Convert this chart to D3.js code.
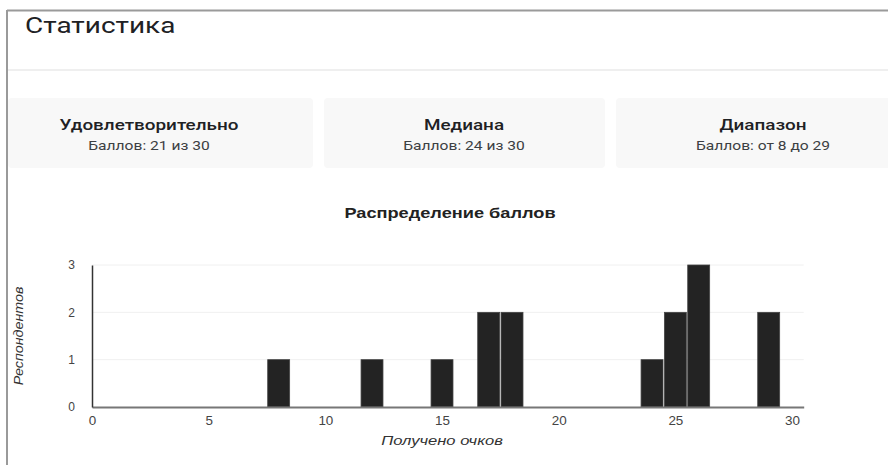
<!DOCTYPE html>
<html>
<head>
<meta charset="utf-8">
<script src="https://cdn.jsdelivr.net/npm/d3@7"></script>
<style>
  html, body { margin: 0; padding: 0; background: #fff; }
  svg { display: block; }
</style>
</head>
<body>
<svg id="chart" width="888" height="465"></svg>
<script>
// Score distribution: points scored and how many respondents got each
const scores = [8, 12, 15, 17, 18, 24, 25, 26, 29];
const respondents = [1, 1, 1, 2, 2, 1, 2, 3, 2];
const xTicks = [0, 5, 10, 15, 20, 25, 30];
const yTicks = [0, 1, 2, 3];

// Summary cards
const cardTitles = ["Удовлетворительно", "Медиана", "Диапазон"];
const cardTexts = ["Баллов: 21 из 30", "Баллов: 24 из 30", "Баллов: от 8 до 29"];

const svg = d3.select("#chart");

// Text drawn with a horizontal stretch around its anchor point
function wideText(sel, px, py, sx, str) {
  return sel.append("text")
    .attr("transform", `translate(${px},${py}) scale(${sx},1)`)
    .text(str);
}

// Panel frame
svg.append("line").attr("x1", 7).attr("x2", 888).attr("y1", 10.5).attr("y2", 10.5)
  .attr("stroke", "#9a9a9a").attr("stroke-width", 2);
svg.append("line").attr("x1", 7).attr("x2", 7).attr("y1", 10).attr("y2", 465)
  .attr("stroke", "#9a9a9a").attr("stroke-width", 2);

wideText(svg, 25, 33, 1.27, "Статистика")
  .attr("font-family", "Roboto, sans-serif").attr("font-size", 22).attr("font-weight", 400)
  .attr("fill", "#202124");

svg.append("rect").attr("x", 8).attr("y", 69).attr("width", 880).attr("height", 2).attr("fill", "#efefef");

// Cards
const cardX = [8, 324, 616];
const cardW = [305, 281, 294];
const cardCx = [149, 464, 763];
cardTitles.forEach((t, i) => {
  const g = svg.append("g");
  g.append("rect").attr("x", cardX[i]).attr("y", 98).attr("width", cardW[i]).attr("height", 70)
    .attr("rx", 4).attr("fill", "#f8f8f8");
  wideText(g, cardCx[i], 130, 1.26, t).attr("text-anchor", "middle")
    .attr("font-family", "Roboto, sans-serif").attr("font-size", 15).attr("font-weight", 500)
    .attr("fill", "#202124");
  wideText(g, cardCx[i], 150, 1.3, cardTexts[i]).attr("text-anchor", "middle")
    .attr("font-family", "Roboto, sans-serif").attr("font-size", 12)
    .attr("fill", "#3c4043");
});

// Histogram
const x = d3.scaleLinear().domain([0, 30.5]).range([92, 803.7]);
const y = d3.scaleLinear().domain([0, 3]).range([407, 265]);

wideText(svg, 450, 218, 1.3, "Распределение баллов").attr("text-anchor", "middle")
  .attr("font-family", "'Liberation Sans', Arial, sans-serif").attr("font-size", 14).attr("font-weight", "bold")
  .attr("fill", "#222");

// Gridlines
svg.append("g").selectAll("line").data(yTicks.filter(d => d > 0)).join("line")
  .attr("x1", x(0)).attr("x2", x(30.5)).attr("y1", d => y(d)).attr("y2", d => y(d))
  .attr("stroke", "#f0f0f0").attr("stroke-width", 1);

// Bars
svg.append("g").selectAll("rect").data(scores.map((s, i) => ({ s, n: respondents[i] }))).join("rect")
  .attr("x", d => x(d.s - 0.5) + 0.7)
  .attr("width", d => x(d.s + 0.5) - x(d.s - 0.5) - 1.4)
  .attr("y", d => y(d.n))
  .attr("height", d => y(0) - y(d.n))
  .attr("fill", "#232323").attr("stroke", "#444").attr("stroke-width", 0.8);

// Axes
const xAxis = d3.axisBottom(x).tickValues(xTicks).tickSize(0).tickPadding(9);
const gx = svg.append("g").attr("transform", `translate(0,${y(0)})`).call(xAxis);
gx.select(".domain").attr("stroke", "#777").attr("stroke-width", 2);
gx.selectAll("text").attr("font-family", "'Liberation Sans', Arial, sans-serif")
  .attr("font-size", 12).attr("fill", "#444")
  .attr("transform", "scale(1.12,1)");

const yAxis = d3.axisLeft(y).tickValues(yTicks).tickSize(0).tickPadding(17).tickFormat(d3.format("d"));
const gy = svg.append("g").attr("transform", `translate(${x(0)},0)`).call(yAxis);
gy.select(".domain").attr("stroke", "#333").attr("stroke-width", 1.5);
gy.selectAll("text").attr("font-family", "'Liberation Sans', Arial, sans-serif")
  .attr("font-size", 12).attr("fill", "#444");

// Axis titles
wideText(svg, x(15), 445, 1.38, "Получено очков").attr("text-anchor", "middle")
  .attr("font-family", "'Liberation Sans', Arial, sans-serif").attr("font-size", 12)
  .attr("font-style", "italic").attr("fill", "#333");
svg.append("text").attr("transform", "translate(23,336) rotate(-90) scale(1.19,1)").attr("text-anchor", "middle")
  .attr("font-family", "'Liberation Sans', Arial, sans-serif").attr("font-size", 12)
  .attr("font-style", "italic").attr("fill", "#333").text("Респондентов");
</script>
</body>
</html>
